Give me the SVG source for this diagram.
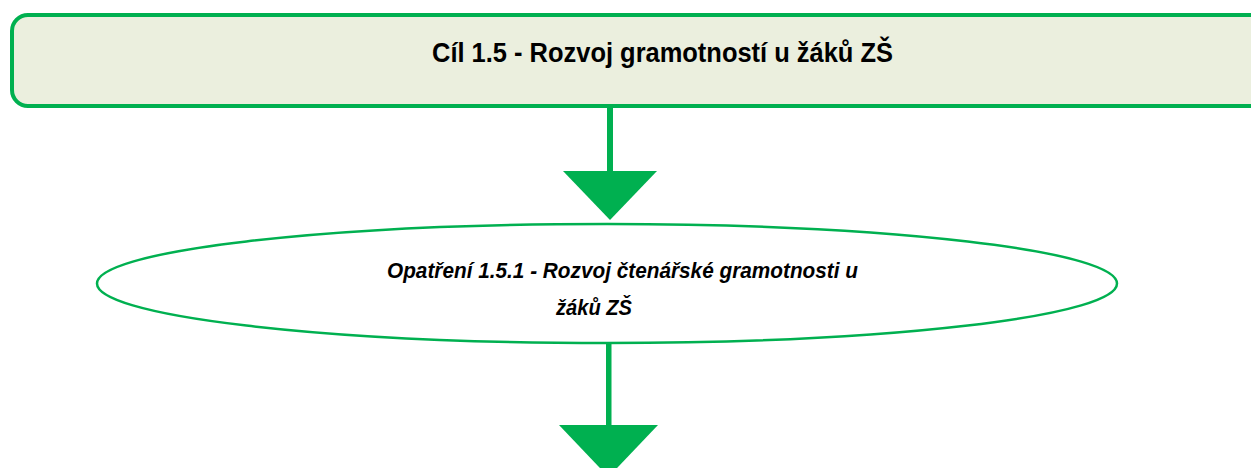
<svg xmlns="http://www.w3.org/2000/svg" width="1251" height="468" viewBox="0 0 1251 468">
<defs>
<style>
.box{fill:#EBEFDE;stroke:#00B050;stroke-width:4}
.ell{fill:#FFFFFF;stroke:#00B050;stroke-width:2.5}
.arr{fill:#00B050;stroke:none}
.t1{font-family:"Liberation Sans",Arial,sans-serif;font-weight:bold;font-size:27.5px;fill:#000}
.t2{font-family:"Liberation Sans",Arial,sans-serif;font-weight:bold;font-style:italic;font-size:22.5px;fill:#000}
</style>
</defs>
<rect width="1251" height="468" fill="#FFFFFF"/>
<g id="connectors">
<rect class="arr" x="607" y="107" width="6" height="65"/>
<polygon class="arr" points="563,171 657,171 610,220"/>
<rect class="arr" x="606" y="343" width="5.5" height="83"/>
<polygon class="arr" points="559,425 658,425 608.5,477"/>
</g>
<g id="node-cil">
<rect class="box" x="12" y="15" width="1260" height="91" rx="16" ry="16"/>
<text class="t1" x="432" y="62" textLength="461" lengthAdjust="spacingAndGlyphs">Cíl 1.5 - Rozvoj gramotností u žáků ZŠ</text>
</g>
<g id="node-opatreni">
<ellipse class="ell" cx="607" cy="283.5" rx="510" ry="59.5"/>
<text class="t2" x="387" y="278" textLength="471" lengthAdjust="spacingAndGlyphs">Opatření 1.5.1 - Rozvoj čtenářské gramotnosti u</text>
<text class="t2" x="556" y="315" textLength="76" lengthAdjust="spacingAndGlyphs">žáků ZŠ</text>
</g>
</svg>
